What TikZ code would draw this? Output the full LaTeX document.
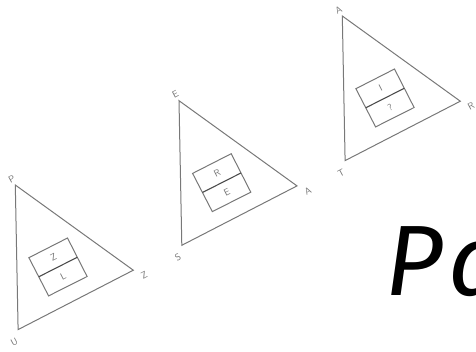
\documentclass[tikz,border=0pt]{standalone}
\usepackage{fontspec}
\newfontfamily\bigfont{Fira Sans}
\usetikzlibrary{calc}
\definecolor{linegray}{RGB}{120,120,120}
\definecolor{textgray}{RGB}{115,115,115}
\tikzset{
  triline/.style={draw=linegray, line width=1pt, line join=miter},
  boxline/.style={draw=linegray, line width=1pt},
  divline/.style={draw=black!70, line width=1.1pt},
  vlabel/.style={text=textgray, font=\sffamily\fontsize{9.5}{9.5}\selectfont, rotate=28, inner sep=0pt},
  blabel/.style={text=textgray, font=\sffamily\fontsize{9.5}{9.5}\selectfont, rotate=27, inner sep=0pt}
}
\newcommand{\mytri}[8]{%
  \begin{scope}[shift={(#1,#2)}]
    \coordinate (#3-t) at (0,0);
    \coordinate (#3-r) at (118,85.2);
    \coordinate (#3-b) at (2.8,144.6);
    \draw[triline] (#3-t) -- (#3-r) -- (#3-b) -- cycle;
    \coordinate (#3-a) at (13.6,72.7);
    \coordinate (#3-bb) at (52.2,53);
    \coordinate (#3-c) at (71.8,91.5);
    \coordinate (#3-d) at (33.3,110.9);
    \draw[boxline] (#3-a) -- (#3-bb) -- (#3-c) -- (#3-d) -- cycle;
    \draw[divline] ($(#3-a)!0.5!(#3-d)$) -- ($(#3-bb)!0.5!(#3-c)$);
    \node[blabel] (#3-up) at (38.2,72.3) {#7};
    \node[blabel] (#3-lo) at (47.8,91.6) {#8};
    \node[vlabel] (#3-lt) at (-3.6,-6.1) {#4};
    \node[vlabel] (#3-lr) at (128.8,90.3) {#5};
    \node[vlabel] (#3-lb) at (-1.1,156.8) {#6};
  \end{scope}}
\begin{document}
\begin{tikzpicture}[x=1pt,y=-1pt]
  \useasboundingbox (0,0) rectangle (476,351);
  \mytri{15.3}{185}{t1}{P}{Z}{U}{Z}{L}
  \mytri{179}{100.7}{t2}{E}{A}{S}{R}{E}
  \mytri{342.3}{16}{t3}{A}{R}{T}{I}{?}
  \node[anchor=base west, inner sep=0pt, font=\bigfont\itshape\fontsize{100}{100}\selectfont] (title) at (385,295) {P\kern6pt a};
\end{tikzpicture}
\end{document}
